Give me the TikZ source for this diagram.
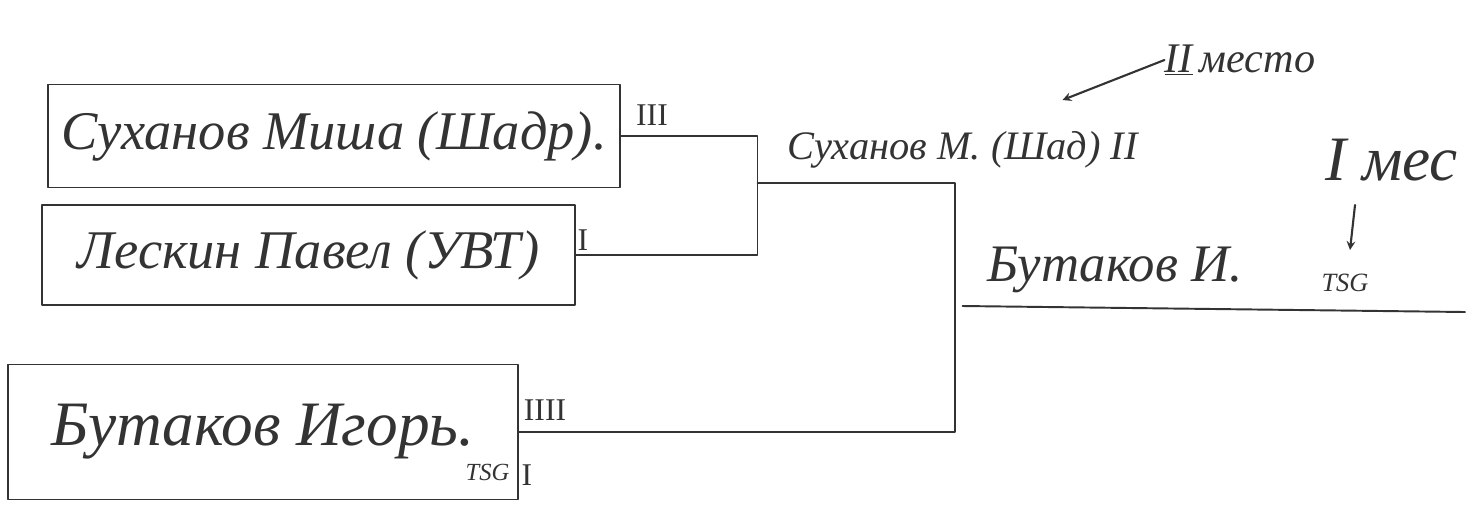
\documentclass[tikz,border=0pt]{standalone}
\usepackage{fontspec}
\setmainfont{Liberation Serif}
\definecolor{ink}{HTML}{333333}
\begin{document}
\begin{tikzpicture}[>=stealth, line join=round, line cap=round, color=ink,
	box/.style={draw, line width=1.1pt, inner sep=0pt},
	hand/.style={font=\itshape\fontsize{#1}{#1}\selectfont, inner sep=0pt},
	tally/.style={font=\fontsize{18}{18}\selectfont, inner sep=0pt}]
	\useasboundingbox (0,0) rectangle (29.54,-10.12);
	% players
	\node[box, hand=31, minimum width=11.44cm, minimum height=2.06cm] (suh) at (6.68,-2.72) {Суханов Миша (Шадр).};
	\node[box, hand=31, minimum width=10.66cm, minimum height=2.0cm] (les) at (6.17,-5.1) {Лескин Павел (УВТ)};
	\node[box, hand=36, minimum width=10.2cm, minimum height=2.7cm] (but) at (5.26,-8.64) {Бутаков Игорь.};
	\node[hand=14] (tsg) at (9.75,-9.45) {TSG};
	\node[tally] (m1) at (13.04,-2.3) {III};
	\node[tally] (m2) at (11.66,-4.8) {I};
	\node[tally] (m3) at (10.9,-8.2) {IIII};
	\node[tally] (m4) at (10.54,-9.5) {I};
	% bracket
	\coordinate (s1) at (15.15,-3.66);
	\coordinate (f1) at (19.1,-6.1);
	\draw[line width=1.1pt] (suh.east) -| (s1) |- (les.east);
	\draw[line width=1.1pt] (s1) -| (f1) |- (but.east);
	\coordinate (f2) at (19.25,-6.12);
	\coordinate (f3) at (29.3,-6.24);
	\draw[line width=1.1pt] (f2) -- (f3);
	% results
	\node[hand=23] (win) at (19.25,-3.0) {Суханов М. (Шад) II};
	\node[hand=30] (fin) at (22.3,-5.4) {Бутаков И.};
	\node[hand=15] (tsg2) at (26.9,-5.65) {TSG};
	\node[hand=24] (p2) at (24.8,-1.2) {\underline{II}\,место};
	\node[hand=36, anchor=west] (p1) at (26.5,-3.2) {I мес};
	\coordinate (a2) at (21.25,-2.0);
	\draw[->, line width=1.2pt] (p2.west) -- (a2);
	\coordinate (b1) at (27.1,-4.1);
	\coordinate (b2) at (27.0,-5.0);
	\draw[->, line width=1.2pt] (b1) -- (b2);
\end{tikzpicture}
\end{document}
